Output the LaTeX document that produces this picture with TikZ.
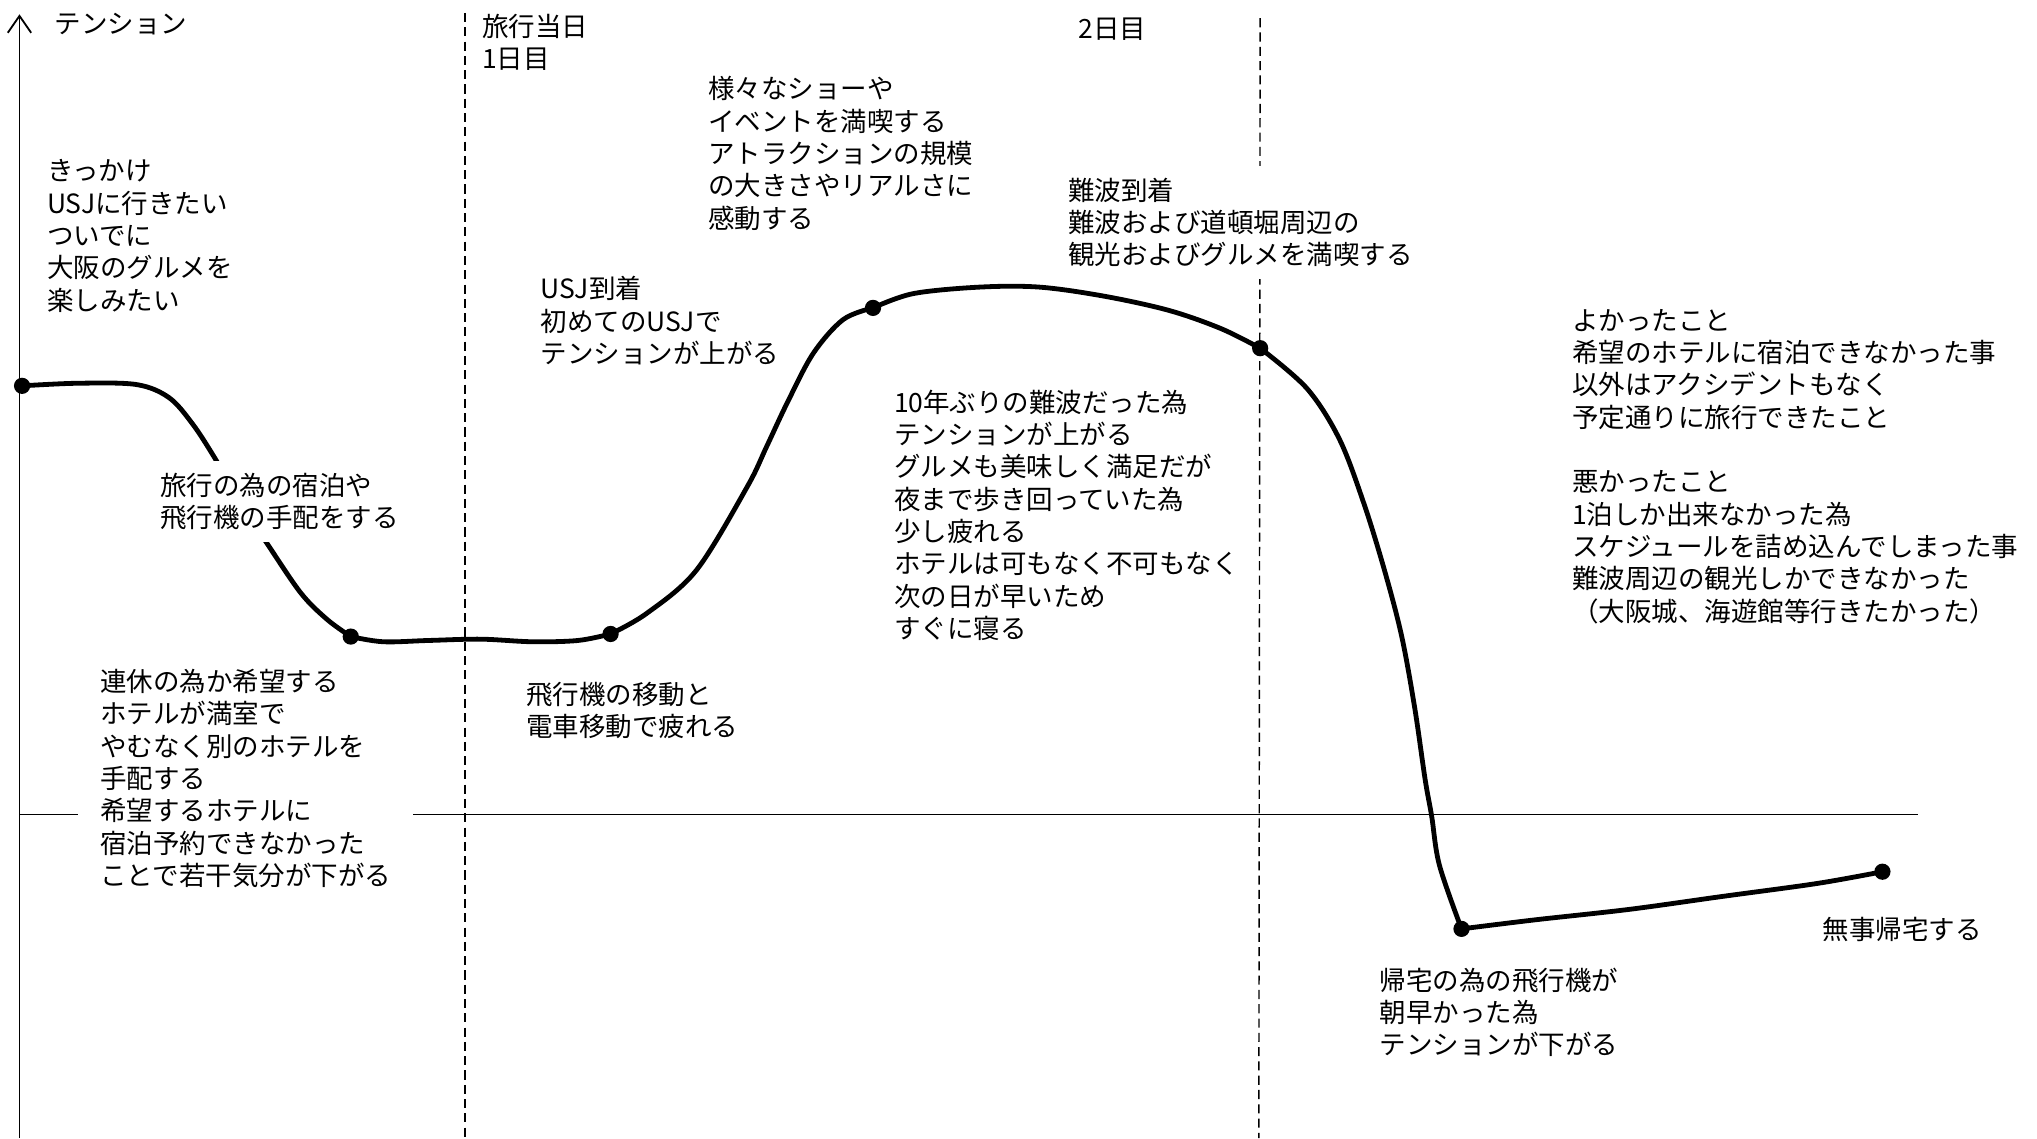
\documentclass[tikz,border=0pt]{standalone}
\usepackage{fontspec}
\setmainfont{Noto Sans CJK JP}
\usetikzlibrary{arrows.meta}
\begin{document}
\begin{tikzpicture}[x=1pt,y=-1pt,
  txt/.style={font=\fontsize{20.4pt}{24.9pt}\selectfont, align=left, anchor=north west,
    inner sep=0pt, yshift=9.25pt, execute at begin node={\rule{0pt}{18.5pt}}},
  boxed/.style={txt, fill=white, inner xsep=17pt, inner ysep=9pt, xshift=-17pt, yshift=9pt},
  axisline/.style={line width=1.4pt},
  levelline/.style={line width=1.3pt},
  dayline/.style={line width=1.1pt, dash pattern=on 7pt off 4pt},
  curve/.style={line width=3.7pt, line join=round, line cap=round},
  dot/.style={circle, fill=black, inner sep=0pt, minimum size=12.5pt},
  sm/.style={smooth, tension=0.55}]
\useasboundingbox (0,0) rectangle (1568,876);
% axes and guide lines
\coordinate (ybot) at (15,876);
\coordinate (ytop) at (15,11);
\draw[axisline, -{Straight Barb[length=13pt,width=18pt]}] (ybot) -- (ytop);
\coordinate (bl0) at (15,627);
\coordinate (bl1) at (1476,627);
\draw[levelline] (bl0) -- (bl1);
\coordinate (d1t) at (358,10);
\coordinate (d1b) at (358,876);
\draw[dayline] (d1t) -- (d1b);
\coordinate (d2t) at (970,14);
\coordinate (d2b) at (969,876);
\draw[dayline] (d2t) -- (d2b);
% points
\node[dot] (p0) at (17,297) {};
\node[dot] (p1) at (270,490) {};
\node[dot] (p2) at (470,488) {};
\node[dot] (p3) at (672,237) {};
\node[dot] (p4) at (970,268) {};
\node[dot] (p5) at (1125,715) {};
\node[dot] (p6) at (1449,671) {};
% curve
\draw[curve] plot[sm] coordinates {(p0.center) (60,295) (105,296) (130,306) (148,326) (165,352) (186,388) (208,422) (232,457) (252,477) (p1.center)};
\draw[curve] plot[sm] coordinates {(p1.center) (295,494) (330,493) (370,492) (410,494) (445,493) (p2.center)};
\draw[curve] plot[sm] coordinates {(p2.center) (498,472) (536,439) (575,375) (590,344) (606,310) (626,272) (649,246) (p3.center)};
\draw[curve] plot[sm] coordinates {(p3.center) (703,226) (754,221) (800,221) (850,228) (900,239) (940,253) (p4.center)};
\draw[curve] plot[sm] coordinates {(p4.center) (1006,299) (1031,338) (1050,388) (1066,440) (1079,490) (1089,545) (1097,600) (1102,628) (1108,666) (p5.center)};
\draw[curve] plot[sm] coordinates {(p5.center) (1182,708) (1254,700) (1326,690) (1399,680) (p6.center)};
% texts
\node[txt] (taxis) at (42,16) {テンション};
\node[txt] (tstart) at (36,132) {きっかけ\\USJに行きたい\\ついでに\\大阪のグルメを\\楽しみたい};
\node[boxed] (tprep) at (123,373) {旅行の為の宿泊や\\飛行機の手配をする};
\node[boxed] (thotel) at (77,524) {連休の為か希望する\\ホテルが満室で\\やむなく別のホテルを\\手配する\\希望するホテルに\\宿泊予約できなかった\\ことで若干気分が下がる};
\node[txt] (tday1) at (371,20) {旅行当日\\1日目};
\node[txt] (tusj) at (416,222) {USJ到着\\初めてのUSJで\\テンションが上がる};
\node[txt] (tmove) at (405,534) {飛行機の移動と\\電車移動で疲れる};
\node[txt] (tshow) at (545,68) {様々なショーや\\イベントを満喫する\\アトラクションの規模\\の大きさやリアルさに\\感動する};
\node[txt] (tday2) at (830,20) {2日目};
\node[boxed] (tnamba) at (822,146) {難波到着\\難波および道頓堀周辺の\\観光およびグルメを満喫する};
\node[txt] (tnight) at (688,309) {10年ぶりの難波だった為\\テンションが上がる\\グルメも美味しく満足だが\\夜まで歩き回っていた為\\少し疲れる\\ホテルは可もなく不可もなく\\次の日が早いため\\すぐに寝る};
\node[txt] (treview) at (1210,247) {よかったこと\\希望のホテルに宿泊できなかった事\\以外はアクシデントもなく\\予定通りに旅行できたこと\\[24.9pt]悪かったこと\\1泊しか出来なかった為\\スケジュールを詰め込んでしまった事\\難波周辺の観光しかできなかった\\（大阪城、海遊館等行きたかった）};
\node[txt] (thome) at (1403,714) {無事帰宅する};
\node[txt] (tback) at (1062,754) {帰宅の為の飛行機が\\朝早かった為\\テンションが下がる};
\end{tikzpicture}
\end{document}
